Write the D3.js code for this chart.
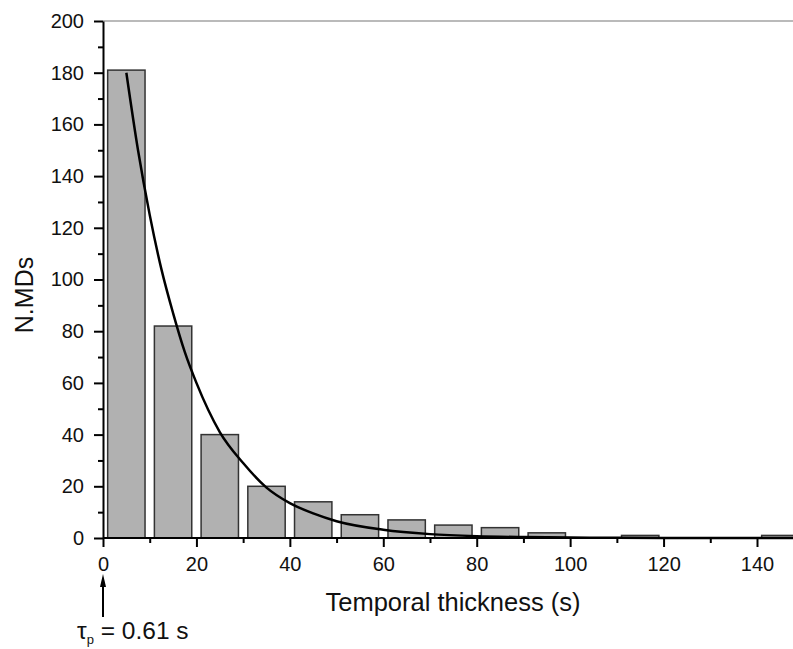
<!DOCTYPE html>
<html>
<head>
<meta charset="utf-8">
<script src="https://cdn.jsdelivr.net/npm/d3@7"></script>
<style>
body { margin: 0; background: #fff; }
svg { display: block; font-family: Arial, "Liberation Sans", sans-serif; }
</style>
</head>
<body>
<svg id="chart" width="793" height="649"></svg>
<script>
// histogram bins (lower edge, s) and counts
var binStart = [0, 10, 20, 30, 40, 50, 60, 70, 80, 90, 100, 110, 120, 130, 140];
var counts   = [181, 82, 40, 20, 14, 9, 7, 5, 4, 2, 0, 1, 0, 0, 1];

// fitted decay curve
var fitX = [5, 7.5, 10, 12.5, 15, 17.5, 20, 25, 30, 35, 40, 45, 50, 60, 70, 80, 90, 100, 110, 120, 130, 140, 150];
var fitY = [180, 150, 125, 104, 87, 72, 60, 41, 29, 19.5, 13.5, 9.5, 6.5, 3.2, 1.5, 0.7, 0.35, 0.17, 0.08, 0.04, 0.02, 0.01, 0.01];

var xTicks = [0, 20, 40, 60, 80, 100, 120, 140];
var yTicks = [0, 20, 40, 60, 80, 100, 120, 140, 160, 180, 200];

var svg = d3.select("#chart");
var x0 = 103, y0 = 538;

var x = d3.scaleLinear().domain([0, 140]).range([x0, 757]);
var y = d3.scaleLinear().domain([0, 200]).range([y0, 21]);

// top frame line
svg.append("line")
	.attr("x1", x0).attr("x2", 793)
	.attr("y1", y(200)).attr("y2", y(200))
	.attr("stroke", "#777").attr("stroke-width", 1.2);

// bars
svg.selectAll("rect.bar")
	.data(counts)
	.enter().append("rect")
	.attr("class", "bar")
	.attr("x", function(d, i) { return x(binStart[i] + 1); })
	.attr("width", function(d, i) { return x(binStart[i] + 9) - x(binStart[i] + 1); })
	.attr("y", function(d) { return y(d); })
	.attr("height", function(d) { return y0 - y(d); })
	.attr("fill", "#b1b1b1")
	.attr("stroke", "#333")
	.attr("stroke-width", 1.5)
	.style("display", function(d) { return d > 0 ? null : "none"; });

// fit curve
var line = d3.line()
	.x(function(d, i) { return x(fitX[i]); })
	.y(function(d) { return y(d); })
	.curve(d3.curveMonotoneX);

svg.append("path")
	.datum(fitY)
	.attr("d", line)
	.attr("fill", "none")
	.attr("stroke", "#000")
	.attr("stroke-width", 2.5);

// minor ticks
var xMinor = d3.range(10, 150, 20);
var yMinor = d3.range(10, 200, 20);

// x axis
var xAxis = svg.append("g")
	.attr("transform", "translate(0," + y0 + ")")
	.call(d3.axisBottom(x).tickValues(xTicks).tickSize(9).tickPadding(10).tickSizeOuter(0));
xAxis.select(".domain").attr("d", "M" + x0 + ",0H793");
svg.append("g")
	.attr("transform", "translate(0," + y0 + ")")
	.call(d3.axisBottom(x).tickValues(xMinor).tickSize(5).tickFormat("").tickSizeOuter(0))
	.select(".domain").remove();

// y axis
var yAxis = svg.append("g")
	.attr("transform", "translate(" + x0 + ",0)")
	.call(d3.axisLeft(y).tickValues(yTicks).tickSize(9).tickPadding(10).tickSizeOuter(0));
svg.append("g")
	.attr("transform", "translate(" + x0 + ",0)")
	.call(d3.axisLeft(y).tickValues(yMinor).tickSize(5).tickFormat("").tickSizeOuter(0))
	.select(".domain").remove();

svg.selectAll(".tick line, .domain").attr("stroke", "#000").attr("stroke-width", 2);
svg.selectAll(".tick text").attr("font-size", 20).attr("fill", "#111")
	.style("font-family", "Arial, 'Liberation Sans', sans-serif");

// axis titles
svg.append("text")
	.attr("x", 453).attr("y", 611)
	.attr("text-anchor", "middle")
	.attr("font-size", 25.5)
	.attr("fill", "#111")
	.text("Temporal thickness (s)");

svg.append("text")
	.attr("transform", "translate(33,295) rotate(-90)")
	.attr("text-anchor", "middle")
	.attr("font-size", 25)
	.attr("fill", "#111")
	.text("N.MDs");

// annotation arrow
svg.append("line")
	.attr("x1", x(0)).attr("x2", x(0))
	.attr("y1", 617).attr("y2", 580)
	.attr("stroke", "#000").attr("stroke-width", 2);
svg.append("path")
	.attr("d", "M" + (x(0) - 3) + ",587L" + x(0) + ",574L" + (x(0) + 3) + ",587Z")
	.attr("fill", "#000");

var ann = svg.append("text")
	.attr("x", 77).attr("y", 639)
	.attr("font-size", 24.5)
	.attr("fill", "#111");
ann.append("tspan").text("τ");
ann.append("tspan").attr("font-size", 13).attr("dy", 5).text("p");
ann.append("tspan").attr("dy", -5).text(" = 0.61 s");
</script>
</body>
</html>
